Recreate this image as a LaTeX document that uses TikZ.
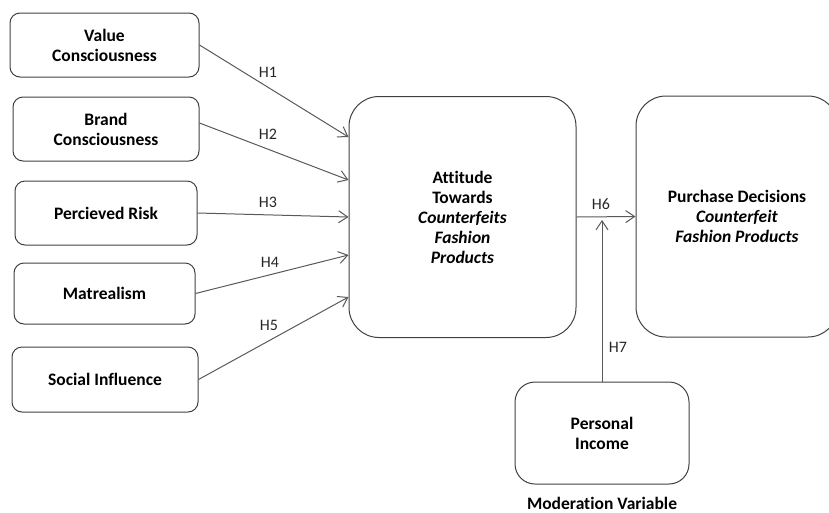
\documentclass[tikz,border=0pt]{standalone}
\usepackage{fontspec}
\setmainfont{Carlito}[Ligatures=NoCommon]
\usetikzlibrary{arrows.meta,calc}
\begin{document}
\begin{tikzpicture}[x=1pt,y=-1pt,
  box/.style={draw=black!75, line width=1pt, rounded corners=10pt, align=center,
    font=\fontsize{17.5}{20}\selectfont\bfseries, inner sep=0pt},
  sbox/.style={box, minimum height=64pt},
  bigbox/.style={box, rounded corners=30pt, minimum height=241pt},
  arr/.style={draw=black!65, line width=1pt, -{Straight Barb[length=9pt,width=12pt]}},
  hl/.style={font=\fontsize{16}{18}\selectfont, inner sep=0pt, text=black!85}]
\useasboundingbox (0,0) rectangle (829,512);

\node[sbox, minimum width=189pt] (b1) at (104.5,45) {Value\\Consciousness};
\node[sbox, minimum width=186pt] (b2) at (106,129) {Brand\\Consciousness};
\node[sbox, minimum width=182pt] (b3) at (106,213) {Percieved Risk};
\node[sbox, minimum width=181pt, minimum height=61pt] (b4) at (104.5,293.5) {Matrealism};
\node[sbox, minimum width=186pt, minimum height=65pt] (b5) at (105,379.5) {Social Influence};

\node[bigbox, minimum width=227pt] (att) at (462.5,217)
  {Attitude\\Towards\\\textit{Counterfeits}\\\textit{Fashion}\\\textit{Products}};
\node[bigbox, minimum width=202pt] (pur) at (737,216.5)
  {Purchase Decisions\\\textit{Counterfeit}\\\textit{Fashion Products}};
\node[box, rounded corners=20pt, minimum width=174pt, minimum height=102pt] (inc) at (602,433)
  {Personal\\Income};
\node[font=\fontsize{17.5}{20}\selectfont\bfseries, inner sep=0pt, anchor=base] (mod) at (602,509)
  {Moderation Variable};

\draw[arr] (b1.east) -- ([yshift=80pt]att.west);
\draw[arr] ([yshift=6pt]b2.east) -- ([yshift=37pt]att.west);
\draw[arr] (b3.east) -- (att.west);
\draw[arr] (b4.east) -- ([yshift=-38pt]att.west);
\draw[arr] (b5.east) -- ([yshift=-80pt]att.west);
\draw[arr] (att.east) -- (pur.west);
\coordinate (h7end) at ($(inc.north |- att.east)+(0,3)$);
\draw[arr] (inc.north) -- (h7end);

\node[hl] (l1) at (268,72) {H1};
\node[hl] (l2) at (268,134) {H2};
\node[hl] (l3) at (268,202) {H3};
\node[hl] (l4) at (270,262) {H4};
\node[hl] (l5) at (269,325) {H5};
\node[hl] (l6) at (601,204) {H6};
\node[hl] (l7) at (618,347) {H7};
\end{tikzpicture}
\end{document}
